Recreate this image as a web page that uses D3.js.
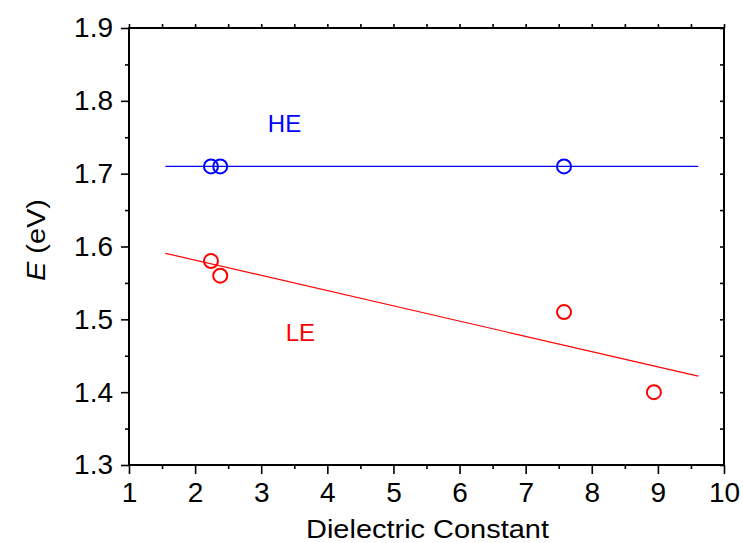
<!DOCTYPE html>
<html>
<head>
<meta charset="utf-8">
<script src="https://cdn.jsdelivr.net/npm/d3@7"></script>
<style>
  body { margin: 0; background: #fff; }
  svg text { font-family: "Liberation Sans", Arial, sans-serif; }
</style>
</head>
<body>
<svg id="chart" width="743" height="543"></svg>
<script>
// data
const heX = [2.24, 2.38, 7.58];
const heY = [1.71, 1.71, 1.71];
const leX = [2.24, 2.38, 7.58, 8.94];
const leY = [1.58, 1.56, 1.51, 1.40];
const fitRange = [1.55, 9.61];
const xTicks = [1, 2, 3, 4, 5, 6, 7, 8, 9, 10];
const yTicks = [1.3, 1.4, 1.5, 1.6, 1.7, 1.8, 1.9];

const svg = d3.select('#chart');
const margin = {top: 28, right: 19, bottom: 78, left: 129};
const width = 743 - margin.left - margin.right;
const height = 543 - margin.top - margin.bottom;

const g = svg.append('g').attr('transform', `translate(${margin.left},${margin.top})`);

const x = d3.scaleLinear().domain([1, 10]).range([0, width]);
const y = d3.scaleLinear().domain([1.3, 1.9]).range([height, 0]);

const xMinor = d3.range(1.5, 10, 1);
const yMinor = d3.range(1.35, 1.9, 0.1);

// least-squares fit
const fit = (xs, ys) => {
    const mx = d3.mean(xs), my = d3.mean(ys);
    const sxx = d3.sum(xs, v => (v - mx) * (v - mx));
    const sxy = d3.sum(xs, (v, i) => (v - mx) * (ys[i] - my));
    const b = sxx ? sxy / sxx : 0;
    return v => my + b * (v - mx);
};

// axes: outward ticks bottom/left, inward ticks top/right
const axisStyle = sel => {
    sel.select('.domain').remove();
    sel.selectAll('line').attr('stroke', '#000').attr('stroke-width', 1.6);
    sel.selectAll('text').attr('fill', '#000').style('font-size', '28px');
};

g.append('g').attr('transform', `translate(0,${height})`)
    .call(d3.axisBottom(x).tickValues(xTicks).tickFormat(d3.format('d')).tickSize(9).tickPadding(8))
    .call(axisStyle);
g.append('g').attr('transform', `translate(0,${height})`)
    .call(d3.axisBottom(x).tickValues(xMinor).tickFormat('').tickSize(4))
    .call(axisStyle);
g.append('g')
    .call(d3.axisLeft(y).tickValues(yTicks).tickFormat(d3.format('.1f')).tickSize(8).tickPadding(8))
    .call(axisStyle);
g.append('g')
    .call(d3.axisLeft(y).tickValues(yMinor).tickFormat('').tickSize(4))
    .call(axisStyle);
g.append('g')
    .call(d3.axisBottom(x).tickValues(xTicks.concat(xMinor)).tickFormat('').tickSize(-4))
    .call(axisStyle);
g.append('g').attr('transform', `translate(${width},0)`)
    .call(d3.axisLeft(y).tickValues(yTicks.concat(yMinor)).tickFormat('').tickSize(4))
    .call(axisStyle);

g.append('rect')
    .attr('width', width).attr('height', height)
    .attr('fill', 'none').attr('stroke', '#000').attr('stroke-width', 2);

// fit lines
const series = [
    {xs: heX, ys: heY, color: '#0000ff'},
    {xs: leX, ys: leY, color: '#ff0000'}
];

series.forEach(s => {
    const f = fit(s.xs, s.ys);
    g.append('path')
        .datum(fitRange)
        .attr('d', d3.line().x(d => x(d)).y(d => y(f(d))))
        .attr('stroke', s.color)
        .attr('stroke-width', 1.2)
        .attr('fill', 'none');

    g.selectAll(null)
        .data(s.xs.map((v, i) => ({x: v, y: s.ys[i]})))
        .enter().append('circle')
        .attr('cx', d => x(d.x))
        .attr('cy', d => y(d.y))
        .attr('r', 7)
        .attr('fill', 'none')
        .attr('stroke', s.color)
        .attr('stroke-width', 2);
});

g.append('text').attr('x', x(3.1)).attr('y', y(1.757))
    .attr('fill', '#0000ff').style('font-size', '24px').text('HE');
g.append('text').attr('x', x(3.37)).attr('y', y(1.47))
    .attr('fill', '#ff0000').style('font-size', '24px').text('LE');

// axis titles
svg.append('text')
    .attr('x', 427.5).attr('y', 538)
    .attr('text-anchor', 'middle')
    .attr('textLength', 243).attr('lengthAdjust', 'spacingAndGlyphs')
    .style('font-size', '25px')
    .text('Dielectric Constant');

svg.append('text')
    .attr('transform', 'translate(45,240) rotate(-90)')
    .attr('text-anchor', 'middle')
    .attr('textLength', 82).attr('lengthAdjust', 'spacingAndGlyphs')
    .style('font-size', '25px')
    .html('<tspan font-style="italic">E</tspan> (eV)');
</script>
</body>
</html>
